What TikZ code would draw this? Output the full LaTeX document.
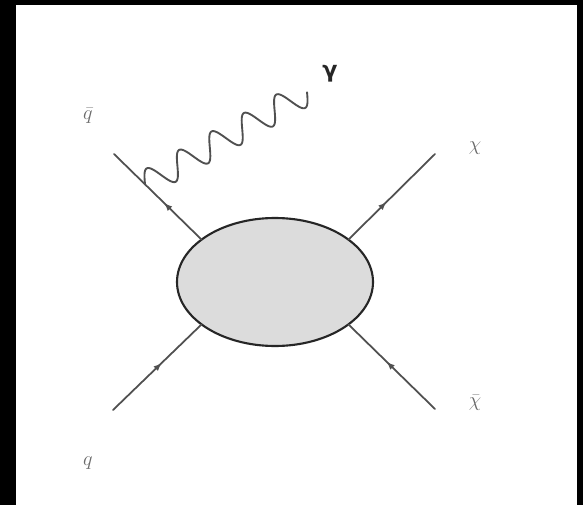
\documentclass[tikz,border=0pt]{standalone}
\usepackage{fontspec}
\newfontfamily\photonfont{DejaVu Sans}
\usetikzlibrary{shapes.geometric,decorations.markings,arrows.meta,calc}
\definecolor{linegray}{HTML}{505050}
\definecolor{labelgray}{HTML}{6A6A6A}
\definecolor{blobgray}{HTML}{DCDCDC}
\tikzset{
  fermion/.style={draw=linegray, line width=1.5pt, postaction={decorate},
    decoration={markings, mark=at position #1 with {\arrow{Latex[length=7pt,width=5.5pt]}}}},
  fermion/.default=0.5,
  photon/.style={draw=linegray, line width=1.6pt},
  blob/.style={ellipse, draw=black!85, line width=1.8pt, fill=blobgray,
    minimum width=5.88cm, minimum height=3.84cm, inner sep=0pt, outer sep=0pt},
  leg/.style={text=labelgray, font=\fontsize{19}{21}\selectfont}
}
\begin{document}
\begin{tikzpicture}[x=0.03cm, y=-0.03cm, line cap=round, line join=round]
    \fill[black] (0,0) rectangle (583,505);
    \fill[white] (16,5) rectangle (577,505);
    \useasboundingbox (0,0) rectangle (583,505);
    % blob and external legs
    \node[blob] (blob) at (275,282) {};
    \coordinate (qend) at (113,410);
    \coordinate (qbarend) at (114,154);
    \coordinate (chiend) at (435,154);
    \coordinate (chibarend) at (435,409);
    \draw[fermion=0.55] (qend) -- (blob.210);
    \draw[fermion=0.43] (blob.150) -- (qbarend);
    \draw[fermion=0.44] (blob.30) -- (chiend);
    \draw[fermion=0.56] (chibarend) -- (blob.330);
    % photon off the antiquark, five wiggles
    \coordinate (wstart) at ($(qbarend)!0.354!(blob.150)$);
    \draw[photon, shift={(wstart)}] plot[domain=0:1, samples=251, smooth]
      ({162*\x-6.4*sin(1800*\x)}, {-92.3*\x-11.3*sin(1800*\x)}) coordinate (wend);
    % labels
    \node[leg] (qlab) at (88,463) {$q$};
    \node[leg] (qbarlab) at (88,116) {$\bar{q}$};
    \node[leg] (chilab) at (475,148) {$\chi$};
    \node[leg] (chibarlab) at (475,403) {$\bar{\chi}$};
    \node[text=black!85, font=\photonfont\bfseries\fontsize{19}{21}\selectfont] (gamlab) at (330,74) {γ};
\end{tikzpicture}
\end{document}
